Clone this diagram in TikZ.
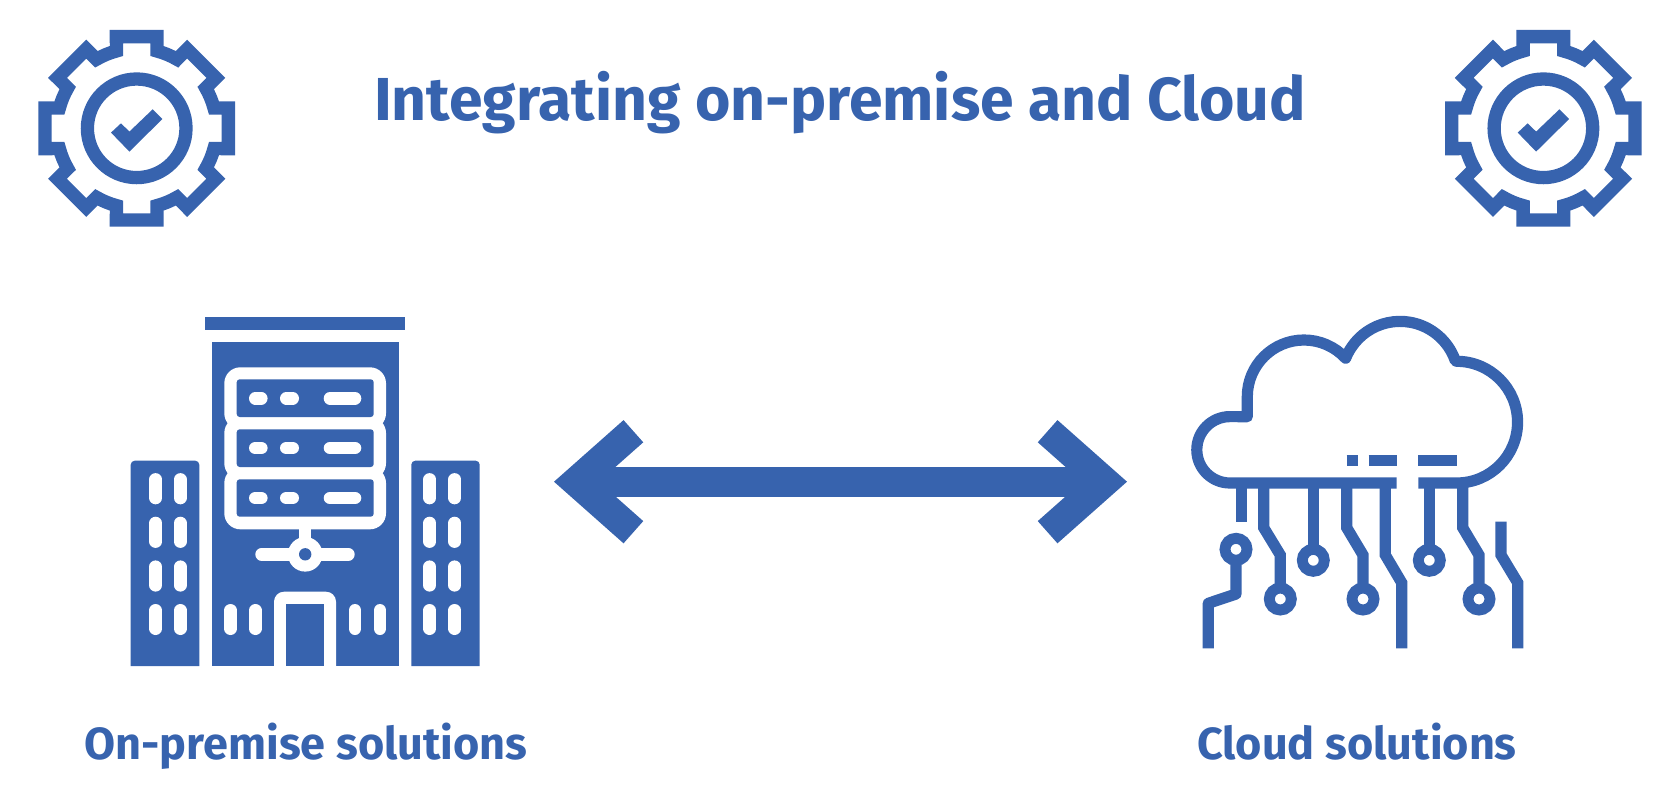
\documentclass[tikz,border=0pt]{standalone}
\usepackage{fontspec}
\setsansfont{Fira Sans}
\usetikzlibrary{arrows.meta}
\definecolor{iconblue}{HTML}{3763AE}
\tikzset{
  titletext/.style={text=iconblue,font=\sffamily\bfseries\fontsize{60.7}{70}\selectfont,anchor=base,inner sep=0pt},
  labeltext/.style={text=iconblue,font=\sffamily\bfseries\fontsize{45}{54}\selectfont,anchor=base,inner sep=0pt},
  block/.style={fill=iconblue,draw=none},
  whitepill/.style={draw=white,line width=12.6pt,line cap=round},
  trace/.style={draw=iconblue,line width=11.2pt,miter limit=10},
  pad/.style={draw=iconblue,line width=10.9pt,fill=white},
  gearicon/.pic={
    \draw[iconblue,line width=13.3pt,miter limit=10]
      (-14.7:79.9) -- (-12.5:93.9) -- (12.5:93.9) -- (14.7:79.9) arc[start angle=14.7,end angle=30.3,radius=79.9]
      -- (32.5:93.9) -- (57.5:93.9) -- (59.7:79.9) arc[start angle=59.7,end angle=75.3,radius=79.9]
      -- (77.5:93.9) -- (102.5:93.9) -- (104.7:79.9) arc[start angle=104.7,end angle=120.3,radius=79.9]
      -- (122.5:93.9) -- (147.5:93.9) -- (149.7:79.9) arc[start angle=149.7,end angle=165.3,radius=79.9]
      -- (167.5:93.9) -- (192.5:93.9) -- (194.7:79.9) arc[start angle=194.7,end angle=210.3,radius=79.9]
      -- (212.5:93.9) -- (237.5:93.9) -- (239.7:79.9) arc[start angle=239.7,end angle=255.3,radius=79.9]
      -- (257.5:93.9) -- (282.5:93.9) -- (284.7:79.9) arc[start angle=284.7,end angle=300.3,radius=79.9]
      -- (302.5:93.9) -- (327.5:93.9) -- (329.7:79.9) arc[start angle=329.7,end angle=345.3,radius=79.9]
      -- cycle;
    \draw[iconblue,line width=13.3pt] (0,0) circle[radius=49.3];
    \fill[iconblue] (-25.7,4.3) -- (-15.7,-5) -- (-7.3,3.3) -- (16,-19) -- (25.7,-9.3) -- (-7.3,23.3) -- cycle;
  }
}
\begin{document}
\begin{tikzpicture}[x=1pt,y=-1pt]
\useasboundingbox (0,0) rectangle (1680,811);
% title and gears
\node[titletext] (title) at (840,120) {Integrating on-premise and Cloud};
\pic (gearleft) at (136.7,128.3) {gearicon};
\pic (gearright) at (1543.4,128.3) {gearicon};
% building
\fill[block] (205.3,317.3) rectangle (405,329.7);
\fill[block] (211.7,342.3) rectangle (398.7,666);
\fill[block,rounded corners=4pt] (130.7,666) -- (130.7,460.7) -- (199.3,460.7) [sharp corners] -- (199.3,666) -- cycle;
\fill[block,rounded corners=4pt] (479.7,666) -- (479.7,460.7) -- (411.3,460.7) [sharp corners] -- (411.3,666) -- cycle;
  % server rack
  \fill[white,rounded corners=16pt] (224.3,367.3) rectangle (386,429.3);
  \fill[white,rounded corners=16pt] (224.3,417) rectangle (386,479.3);
  \fill[white,rounded corners=16pt] (224.3,467) rectangle (386,529.3);
  \fill[block,rounded corners=3pt] (236.7,379.3) rectangle (373.7,417);
  \fill[block,rounded corners=3pt] (236.7,429.3) rectangle (373.7,467);
  \fill[block,rounded corners=3pt] (236.7,479.3) rectangle (373.7,516.7);
  \draw[whitepill] (255.3,398.3) -- (261.3,398.3) (286.3,398.3) -- (292.7,398.3) (330,398.3) -- (355,398.3);
  \draw[whitepill] (255.3,448) -- (261.3,448) (286.3,448) -- (292.7,448) (330,448) -- (355,448);
  \draw[whitepill] (255.3,498) -- (261.3,498) (286.3,498) -- (292.7,498) (330,498) -- (355,498);
  \draw[white,line width=12.4pt] (305.2,525) -- (305.2,545);
  \draw[whitepill] (261.6,554.3) -- (348.4,554.3);
  \fill[white] (305.2,554.3) circle (17.3pt);
  \fill[block] (305.2,554.3) circle (6.2pt);
  % door
  \fill[white,rounded corners=10pt] (274,666) -- (274,591.7) -- (336,591.7) [sharp corners] -- (336,666) -- cycle;
  \fill[block] (286.3,604) rectangle (323.7,666);
  % windows
  \draw[whitepill] (230.5,610.3) -- (230.5,628.7) (255.3,610.3) -- (255.3,628.7) (355,610.3) -- (355,628.7) (380,610.3) -- (380,628.7);
  \draw[whitepill] (155.7,479.4) -- (155.7,498) (180.3,479.4) -- (180.3,498) (429.7,479.4) -- (429.7,498) (454.7,479.4) -- (454.7,498);
  \draw[whitepill] (155.7,523) -- (155.7,541.6) (180.3,523) -- (180.3,541.6) (429.7,523) -- (429.7,541.6) (454.7,523) -- (454.7,541.6);
  \draw[whitepill] (155.7,566.7) -- (155.7,585.3) (180.3,566.7) -- (180.3,585.3) (429.7,566.7) -- (429.7,585.3) (454.7,566.7) -- (454.7,585.3);
  \draw[whitepill] (155.7,610.3) -- (155.7,628.7) (180.3,610.3) -- (180.3,628.7) (429.7,610.3) -- (429.7,628.7) (454.7,610.3) -- (454.7,628.7);
\node[labeltext] (onpremise) at (306,759) {On-premise solutions};
% double arrow
\coordinate (arrowleft) at (554,481.7);
\coordinate (arrowright) at (1127,481.7);
\draw[iconblue,line width=29.7pt,{Straight Barb[length=57pt,width=101pt]}-{Straight Barb[length=57pt,width=101pt]}] (arrowleft) -- (arrowright);
% cloud
\draw[trace,line join=round] (1396.7,483) -- (1230,483) arc[start angle=90,end angle=270,radius=33.2]
  -- (1247.3,416.7) -- (1247.3,396.7) arc[start angle=180,end angle=317.3,radius=56.7]
  arc[start angle=201.7,end angle=340.8,radius=58.5]
  -- (1456.7,361.3) arc[start angle=270,end angle=450,radius=60.85] -- (1418.3,483);
  \draw[trace] (1346.7,460.8) -- (1357.7,460.8) (1368.7,460.8) -- (1396.7,460.8) (1418.3,460.8) -- (1457,460.8);
  % traces
  \draw[trace] (1241.7,483) -- (1241.7,521.7);
  \draw[trace,line join=round] (1236,565) -- (1236,594) -- (1208.3,603.3) -- (1208.3,648.3);
  \draw[trace] (1263.7,483) -- (1263.7,527.7) -- (1280.3,555) -- (1280.3,588);
  \draw[trace] (1313.3,483) -- (1313.3,549.3);
  \draw[trace] (1346.7,483) -- (1346.7,527.7) -- (1363,555) -- (1363,588);
  \draw[trace] (1385.3,483) -- (1385.3,555) -- (1401.7,582.7) -- (1401.7,648.3);
  \draw[trace] (1429.3,483) -- (1429.3,549.3);
  \draw[trace] (1462.7,483) -- (1462.7,527.7) -- (1479,555) -- (1479,588);
  \draw[trace] (1501,521.7) -- (1501,555) -- (1517.7,582.7) -- (1517.7,648.3);
  \draw[pad] (1236,549.3) circle (11pt);
  \draw[pad] (1280.3,599) circle (11pt);
  \draw[pad] (1313.3,560.3) circle (11pt);
  \draw[pad] (1363,599) circle (11pt);
  \draw[pad] (1429.3,560.3) circle (11pt);
  \draw[pad] (1479,599) circle (11pt);
\node[labeltext] (cloudlabel) at (1357,759) {Cloud solutions};
\end{tikzpicture}
\end{document}
